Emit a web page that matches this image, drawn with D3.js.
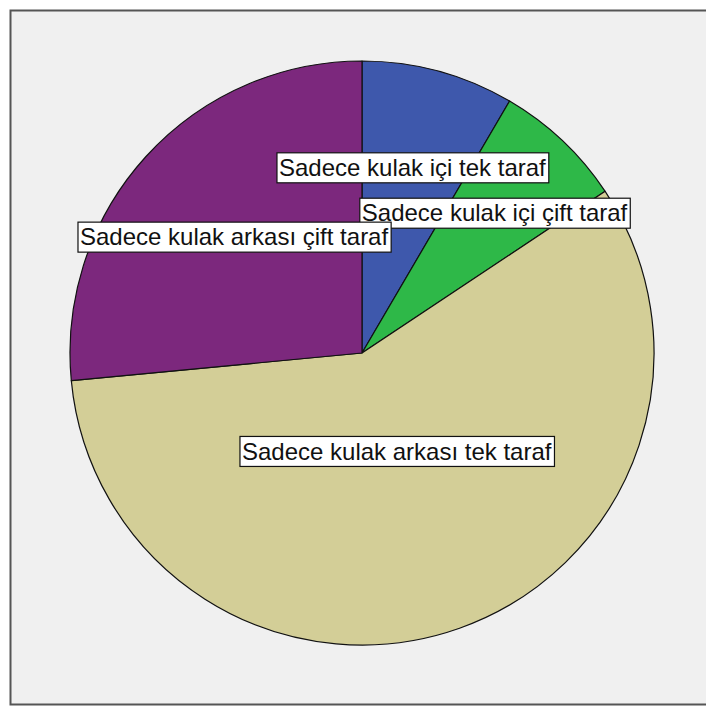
<!DOCTYPE html>
<html>
<head>
<meta charset="utf-8">
<script src="https://cdn.jsdelivr.net/npm/d3@7"></script>
<style>
  html, body { margin: 0; padding: 0; background: #ffffff; }
  svg { display: block; }
</style>
</head>
<body>
<svg id="chart" width="706" height="711"></svg>
<script>
// Slice categories, counts and fill colours
const categories = [
  "Sadece kulak içi tek taraf",
  "Sadece kulak içi çift taraf",
  "Sadece kulak arkası tek taraf",
  "Sadece kulak arkası çift taraf"
];
const counts = [7, 6, 48, 22];
const colors = ["#3e58ac", "#2eb848", "#d3ce97", "#7c287d"];

const svg = d3.select("#chart");

// Panel background and frame
svg.append("rect")
  .attr("x", 10.5).attr("y", 10.5)
  .attr("width", 710).attr("height", 694)
  .attr("fill", "#f0f0f0")
  .attr("stroke", "#555")
  .attr("stroke-width", 2);

const cx = 362, cy = 353, r = 292;
const g = svg.append("g").attr("transform", `translate(${cx},${cy})`);

const data = categories.map((c, i) => ({ label: c, value: counts[i], color: colors[i] }));

const pie = d3.pie().sort(null).value(d => d.value).startAngle(0).endAngle(2 * Math.PI);
const arcs = pie(data);
const arc = d3.arc().innerRadius(0).outerRadius(r);

g.selectAll("path.slice")
  .data(arcs)
  .join("path")
  .attr("class", "slice")
  .attr("d", arc)
  .attr("fill", d => d.data.color)
  .attr("stroke", "#111")
  .attr("stroke-width", 1.2)
  .attr("stroke-linejoin", "round");

// Labels sit at the centroid of each sector
const labels = g.selectAll("g.label")
  .data(arcs)
  .join("g")
  .attr("class", "label")
  .attr("transform", d => {
    const a = d.endAngle - d.startAngle;
    const mid = (d.startAngle + d.endAngle) / 2;
    const dist = 4 * r * Math.sin(a / 2) / (3 * a);
    return `translate(${dist * Math.sin(mid)},${-dist * Math.cos(mid)})`;
  });

labels.each(function(d) {
  const sel = d3.select(this);
  const rect = sel.append("rect");
  const text = sel.append("text")
    .attr("text-anchor", "middle")
    .attr("dy", "0.36em")
    .attr("font-family", "'Liberation Sans', Arial, sans-serif")
    .attr("font-size", 24)
    .attr("fill", "#111")
    .text(d.data.label);
  const w = text.node().getComputedTextLength();
  const bw = w + 5, bh = 30;
  rect.attr("x", -bw / 2 + 0.5).attr("y", -bh / 2 + 0.5)
    .attr("width", bw).attr("height", bh)
    .attr("fill", "#ffffff")
    .attr("stroke", "#111")
    .attr("stroke-width", 1.2);
});
</script>
</body>
</html>
